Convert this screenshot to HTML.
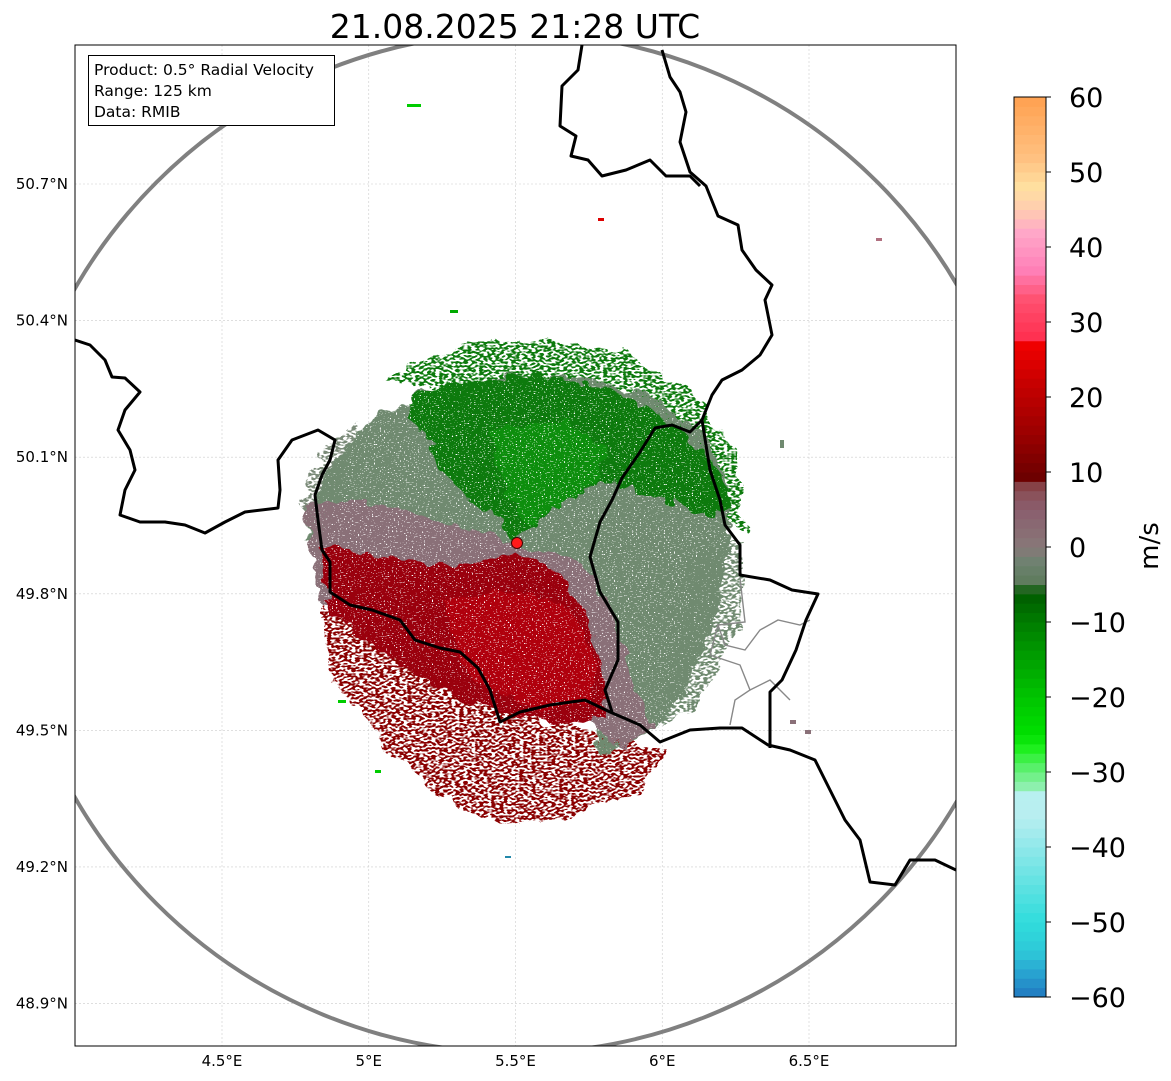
<!DOCTYPE html>
<html><head><meta charset="utf-8"><style>
html,body{margin:0;padding:0;background:#fff;}
svg{display:block;font-family:"DejaVu Sans","Liberation Sans",sans-serif;}
</style></head><body>
<svg id="fig" width="1171" height="1081" viewBox="0 0 1171 1081" xmlns="http://www.w3.org/2000/svg">
<defs>
<clipPath id="axclip"><rect x="75" y="45" width="881" height="1001"/></clipPath>
<filter id="solid" x="-10%" y="-10%" width="120%" height="120%">
<feTurbulence type="fractalNoise" baseFrequency="0.07" numOctaves="2" seed="3" result="n"/>
<feDisplacementMap in="SourceGraphic" in2="n" scale="18" xChannelSelector="R" yChannelSelector="G" result="d"/>
<feTurbulence type="fractalNoise" baseFrequency="0.5 0.9" numOctaves="1" seed="7" result="s"/>
<feColorMatrix in="s" type="matrix" values="0 0 0 0 0  0 0 0 0 0  0 0 0 0 0  0 0 0 -14 10" result="m"/>
<feComposite in="d" in2="m" operator="in"/>
</filter>
<filter id="rag" x="-10%" y="-10%" width="120%" height="120%">
<feTurbulence type="fractalNoise" baseFrequency="0.05" numOctaves="2" seed="11" result="n"/>
<feDisplacementMap in="SourceGraphic" in2="n" scale="22" xChannelSelector="R" yChannelSelector="G" result="d"/>
<feTurbulence type="fractalNoise" baseFrequency="0.25 0.5" numOctaves="1" seed="5" result="s"/>
<feColorMatrix in="s" type="matrix" values="0 0 0 0 0  0 0 0 0 0  0 0 0 0 0  0 0 0 -12 6.6" result="m"/>
<feComposite in="d" in2="m" operator="in"/>
</filter>
</defs>
<text x="515" y="38" font-size="33" text-anchor="middle" fill="#000">21.08.2025 21:28 UTC</text>
<g id="grid"></g>
<g clip-path="url(#axclip)">
  <g filter="url(#rag)">
    <path d="M320,600 L400,660 L470,700 L540,720 L610,735 L665,755 L640,790 L580,815 L500,825 L440,795 L380,740 L330,670 Z" fill="#8a0000"/>
    <path d="M380,380 L460,345 L540,340 L620,350 L690,390 L735,450 L745,530 L720,520 L700,460 L640,400 L560,380 L470,390 Z" fill="#0a7a0a"/>
    <path d="M690,560 L745,540 L740,620 L700,700 L660,730 L680,640 Z" fill="#708a70"/>
    <path d="M300,500 L330,440 L360,420 L340,500 L320,560 Z" fill="#7a8a78"/>
  </g>
  <g filter="url(#solid)">
    <path d="M305,540 L325,470 L365,425 L420,392 L500,375 L580,378 L650,395 L700,430 L725,475 L730,540 L715,620 L685,690 L650,735 L600,755 L560,560 Z" fill="#6f8a70"/>
    <path d="M305,505 L360,500 L440,520 L520,545 L580,560 L610,610 L630,670 L655,730 L620,748 L560,700 L460,620 L320,600 Z" fill="#8a7078"/>
    <path d="M322,548 L400,560 L470,565 L515,552 L560,575 L590,620 L605,680 L600,718 L560,722 L500,712 L440,690 L380,650 L330,615 Z" fill="#9a0010"/>
    <path d="M440,600 L520,590 L570,610 L595,660 L590,705 L540,710 L470,680 Z" fill="#b00010"/>
    <path d="M405,400 L460,380 L540,375 L620,392 L675,425 L715,465 L732,505 L712,518 L680,505 L640,490 L600,480 L560,505 L530,530 L515,538 L495,515 L465,497 L440,470 L430,440 L408,420 Z" fill="#0a7a0a"/>
    <path d="M490,430 L560,420 L610,450 L595,480 L560,505 L530,525 L505,495 Z" fill="#108e10"/>
  </g>
  <g>
    <rect x="407" y="104" width="14" height="3" fill="#0c0"/>
    <rect x="598" y="218" width="6" height="3" fill="#d00"/>
    <rect x="876" y="238" width="6" height="3" fill="#b07080"/>
    <rect x="450" y="310" width="8" height="3" fill="#0a0"/>
    <rect x="338" y="700" width="8" height="3" fill="#0c0"/>
    <rect x="375" y="770" width="6" height="3" fill="#0c0"/>
    <rect x="505" y="856" width="6" height="2" fill="#28a"/>
    <rect x="790" y="720" width="6" height="4" fill="#8a7078"/>
    <rect x="805" y="730" width="6" height="4" fill="#8a7078"/>
    <rect x="780" y="440" width="4" height="8" fill="#708a70"/>
  </g>
  <circle cx="517" cy="543" r="510" fill="none" stroke="#808080" stroke-width="4"/>
  <g fill="none" stroke="#888" stroke-width="1.4">
    <path d="M740,578 L745,622 L718,625 L725,645 L745,650 L760,630 L778,620 L800,625 L810,620"/>
    <path d="M718,625 L710,655 L740,665 L750,690 L735,700 L730,725"/>
    <path d="M750,690 L770,680 L790,700"/>
  </g>
  <g fill="none" stroke="#000" stroke-width="3" stroke-linejoin="round">
    <path d="M75,340 L90,345 L105,360 L112,377 L125,378 L140,392 L125,410 L118,430 L130,450 L135,470 L125,490 L120,515 L140,522 L165,522 L185,525 L205,533 L225,522 L245,512 L278,508 L280,490 L278,460 L292,440 L318,430 L335,440 L330,460 L322,475 L315,495 L318,520 L322,550 L330,562 L330,592 L350,605 L372,610 L400,620 L415,640 L440,648 L460,652 L478,668 L490,690 L500,722 L520,712 L550,705 L585,700 L610,712 L640,725 L660,742 L690,730 L720,728 L742,728 L768,745 L790,750 L815,760 L830,790 L845,820 L860,840 L870,882 L895,885 L910,860 L935,860 L956,870"/>
    <path d="M612,712 L605,690 L618,660 L618,622 L600,592 L590,557 L600,522 L612,500 L622,478 L640,452 L655,428 L672,425 L690,432 L702,420"/>
    <path d="M702,420 L712,395 L722,380 L742,370 L760,355 L772,335 L765,300 L772,285 L756,270 L742,250 L738,225 L718,216 L706,186 L690,172 L680,142 L686,112 L680,92 L670,77 L662,50"/>
    <path d="M582,45 L578,70 L562,86 L560,126 L576,136 L571,156 L588,160 L602,176 L626,170 L650,160 L666,176 L690,176 L700,186"/>
    <path d="M702,420 L710,470 L720,500 L725,525 L740,545 L740,575 L770,580 L792,590 L818,594 L806,620 L796,650 L782,680 L770,692 L770,748"/>
  </g>
  <circle cx="517" cy="543" r="5.5" fill="#ff1a1a" stroke="#400" stroke-width="1"/>
</g>
<rect x="75" y="45" width="881" height="1001" fill="none" stroke="#000" stroke-width="1"/>
<g>
<rect x="88.5" y="55.5" width="246" height="70" fill="#fff" stroke="#000" stroke-width="1"/>
<text x="94" y="75" font-size="15.5">Product: 0.5° Radial Velocity</text>
<text x="94" y="96" font-size="15.5">Range: 125 km</text>
<text x="94" y="117" font-size="15.5">Data: RMIB</text>
</g>
<g id="xticks"></g>
<g id="yticks"></g>
<g id="cbar"></g>
<text transform="translate(1158,546) rotate(-90)" font-size="26" text-anchor="middle">m/s</text>
</svg>
<script>
const lonTicks=[4.5,5,5.5,6,6.5];
const latTicks=[50.7,50.4,50.1,49.8,49.5,49.2,48.9];
const cbTicks=[60,50,40,30,20,10,0,-10,-20,-30,-40,-50,-60];
const stopVals=[-60,-57,-54,-50,-45,-40,-36,-33,-32,-29,-27,-25,-20,-15,-10,-6,-5,-2,0,5,8,9,15,22,27,28,33,37,42,45,48,52,60];
const stopCols=["#2078c0","#28a0d0","#2ec8d8","#30dcdc","#60e2e2","#90e8ea","#b8eef0","#b8f0f0","#90f0b0","#50f060","#20f020","#00e000","#00c400","#00a000","#007c00","#005a00","#5c7a5a","#6e8270","#887878","#8a5e6e","#8a4a50","#6a0000","#9a0000","#c80000","#f00000","#ff3050","#ff5070","#ff80b8","#ffa8c8","#ffccb0","#ffe0a0","#ffc080","#ffa050"];
const NS="http://www.w3.org/2000/svg";
const X=lon=>222+(lon-4.5)*293.5;
const Y=lat=>184+(50.7-lat)*455.3;
const CY=v=>997-(v+60)*7.5;
function mk(t,a,p){const e=document.createElementNS(NS,t);for(const k in a)e.setAttribute(k,a[k]);p.appendChild(e);return e;}
const grid=document.getElementById('grid'),xt=document.getElementById('xticks'),yt=document.getElementById('yticks'),cb=document.getElementById('cbar');
lonTicks.forEach(l=>{
 const g=mk('line',{x1:X(l),x2:X(l),y1:45,y2:1046,stroke:'#ccc','stroke-width':0.6,'stroke-dasharray':'2,2'},grid);
 
 
 const t=mk('text',{x:X(l),y:1066,'font-size':15,'text-anchor':'middle'},xt);t.textContent=l+'°E';
 
 
});
latTicks.forEach(l=>{
 const g=mk('line',{x1:75,x2:956,y1:Y(l),y2:Y(l),stroke:'#ccc','stroke-width':0.6,'stroke-dasharray':'2,2'},grid);
 
 
 const t=mk('text',{x:68,y:Y(l)+5,'font-size':15,'text-anchor':'end'},yt);t.textContent=l.toFixed(1)+'°N';
 
 
});
function hex(c){return [1,3,5].map(i=>parseInt(c.substr(i,2),16));}
function colAt(v){for(let i=0;i<stopVals.length-1;i++){if(v<=stopVals[i+1]){const f=(v-stopVals[i])/(stopVals[i+1]-stopVals[i]);const a=hex(stopCols[i]),b=hex(stopCols[i+1]);return 'rgb('+a.map((x,j)=>Math.round(x+(b[j]-x)*f)).join(',')+')';}}return stopCols[stopCols.length-1];}
const step=1.25;
for(let v=-60;v<60;v+=step){
 const r=mk('rect',{x:1014,y:CY(v+step),width:32,height:CY(v)-CY(v+step)+0.5,fill:colAt(v+step/2)},cb);
 
 
}
const fr=mk('rect',{x:1014,y:CY(60),width:32,height:CY(-60)-CY(60),fill:'none',stroke:'#000','stroke-width':1},cb);


cbTicks.forEach(v=>{
 const tk=mk('line',{x1:1046,x2:1051,y1:CY(v),y2:CY(v),stroke:'#000'},cb);
 
 
 const t=mk('text',{x:1069,y:CY(v)+10,'font-size':27},cb);t.textContent=(v<0?'\u2212'+(-v):''+v);
 
 
});
</script>
</body></html>
